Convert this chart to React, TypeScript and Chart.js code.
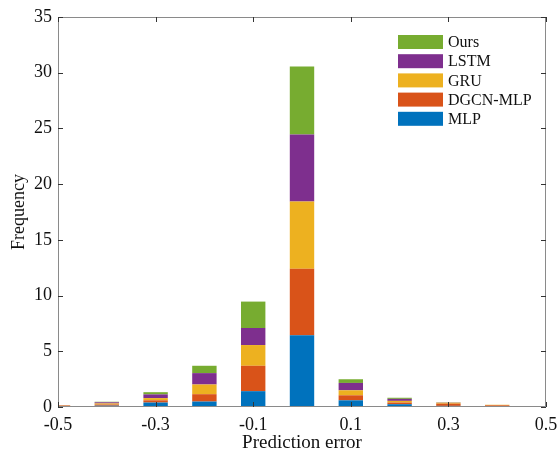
import React, { useEffect, useRef } from "react";
import { Chart, registerables } from "chart.js";

Chart.register(...registerables);

const binCenters = [-0.5, -0.4, -0.3, -0.2, -0.1, 0, 0.1, 0.2, 0.3, 0.4, 0.5];
const mlp = [0.03, 0.12, 0.4, 0.49, 1.42, 6.45, 0.6, 0.25, 0.1, 0.05, 0.05];
const dgcnMlp = [0.1, 0.1, 0.2, 0.66, 2.28, 5.95, 0.45, 0.15, 0.2, 0.1, 0];
const gru = [0.02, 0.1, 0.2, 0.87, 1.86, 6.05, 0.45, 0.15, 0.08, 0.05, 0];
const lstm = [0.01, 0.1, 0.33, 1.02, 1.53, 6.0, 0.66, 0.18, 0.02, 0, 0];
const ours = [0.01, 0.05, 0.2, 0.66, 2.37, 6.1, 0.33, 0.1, 0.02, 0, 0];

const xTickValues = [-0.5, -0.3, -0.1, 0.1, 0.3, 0.5];
const xTickLabels = ["-0.5", "-0.3", "-0.1", "0.1", "0.3", "0.5"];
const yTickValues = [0, 5, 10, 15, 20, 25, 30, 35];

const seriesNames = ["MLP", "DGCN-MLP", "GRU", "LSTM", "Ours"];
const seriesColors = ["#0072BD", "#D95319", "#EDB120", "#7E2F8E", "#77AC30"];
const seriesValues = [mlp, dgcnMlp, gru, lstm, ours];

const FONT = "'Liberation Serif', 'Times New Roman', serif";
const AXIS_COLOR = "#8a8a8a";

const boxPlugin = {
  id: "matlabBox",
  afterDatasetsDraw(chart: any) {
    const { ctx, chartArea, scales } = chart;
    const { left, right, top, bottom } = chartArea;
    const tl = 5;
    ctx.save();
    ctx.strokeStyle = AXIS_COLOR;
    ctx.lineWidth = 1;
    ctx.beginPath();
    ctx.rect(left + 0.5, top + 0.5, right - left - 1, bottom - top - 1);
    ctx.stroke();
    ctx.strokeStyle = "#333";
    ctx.beginPath();
    xTickValues.forEach((v) => {
      const x = Math.round(scales.x.getPixelForValue(v)) + 0.5;
      ctx.moveTo(x, bottom);
      ctx.lineTo(x, bottom - tl);
      ctx.moveTo(x, top);
      ctx.lineTo(x, top + tl);
    });
    yTickValues.forEach((v) => {
      const y = Math.round(scales.y.getPixelForValue(v)) + 0.5;
      ctx.moveTo(left, y);
      ctx.lineTo(left + tl, y);
      ctx.moveTo(right, y);
      ctx.lineTo(right - tl, y);
    });
    ctx.stroke();
    ctx.restore();
  },
  afterDraw(chart: any) {
    const { ctx, chartArea } = chart;
    const ds = chart.data.datasets.slice().reverse();
    const boxX = chartArea.right - 148;
    let y = chartArea.top + 25;
    ctx.save();
    ctx.font = `16px ${FONT}`;
    ctx.textBaseline = "middle";
    ctx.textAlign = "left";
    ds.forEach((d: any) => {
      ctx.fillStyle = d.backgroundColor;
      ctx.fillRect(boxX, y - 7, 45, 14);
      ctx.fillStyle = "#111";
      ctx.fillText(d.label, boxX + 50, y + 1);
      y += 19.2;
    });
    ctx.restore();
  },
};

export default function App() {
  const ref = useRef<HTMLCanvasElement | null>(null);
  useEffect(() => {
    document.body.style.margin = "0";
    const canvas = ref.current;
    if (!canvas) return;
    const chart = new Chart(canvas, {
      type: "bar",
      data: {
        datasets: seriesValues.map((vals, i) => ({
          label: seriesNames[i],
          data: binCenters.map((x, j) => ({ x, y: vals[j] })),
          backgroundColor: seriesColors[i],
          borderWidth: 0,
          barPercentage: 0.5,
          categoryPercentage: 1,
        })),
      },
      options: {
        responsive: false,
        animation: false,
        devicePixelRatio: 1,
        layout: { padding: { left: 0, top: 17, right: 12, bottom: 0 } },
        plugins: { legend: { display: false }, tooltip: { enabled: false } },
        scales: {
          x: {
            type: "linear",
            stacked: true,
            offset: false,
            min: -0.5,
            max: 0.5,
            grid: { display: false, drawTicks: false, offset: false },
            border: { display: false },
            afterBuildTicks: (s: any) => {
              s.ticks = xTickValues.map((v) => ({ value: v }));
            },
            afterFit: (s: any) => {
              s.height = 50;
              s.paddingLeft = 0;
              s.paddingRight = 0;
            },
            ticks: {
              autoSkip: false,
              maxRotation: 0,
              padding: 7,
              color: "#111",
              font: { family: FONT, size: 18 },
              callback: (v: any) => {
                const i = xTickValues.findIndex((t) => Math.abs(t - v) < 1e-9);
                return i >= 0 ? xTickLabels[i] : "";
              },
            },
            title: {
              display: true,
              text: "Prediction error",
              color: "#111",
              font: { family: FONT, size: 19 },
              padding: { top: 0, bottom: 3 },
            },
          },
          y: {
            stacked: true,
            min: 0,
            max: 35,
            grid: { display: false, drawTicks: false },
            border: { display: false },
            afterBuildTicks: (s: any) => {
              s.ticks = yTickValues.map((v) => ({ value: v }));
            },
            afterFit: (s: any) => {
              s.width = 58;
            },
            ticks: {
              padding: 6,
              color: "#111",
              font: { family: FONT, size: 18 },
            },
            title: {
              display: true,
              text: "Frequency",
              color: "#111",
              font: { family: FONT, size: 18 },
              padding: { top: 8, bottom: 0 },
            },
          },
        },
      },
      plugins: [boxPlugin],
    });
    return () => chart.destroy();
  }, []);
  return (
    <div style={{ width: 558, height: 457, background: "#fff" }}>
      <canvas ref={ref} width={558} height={457} />
    </div>
  );
}
